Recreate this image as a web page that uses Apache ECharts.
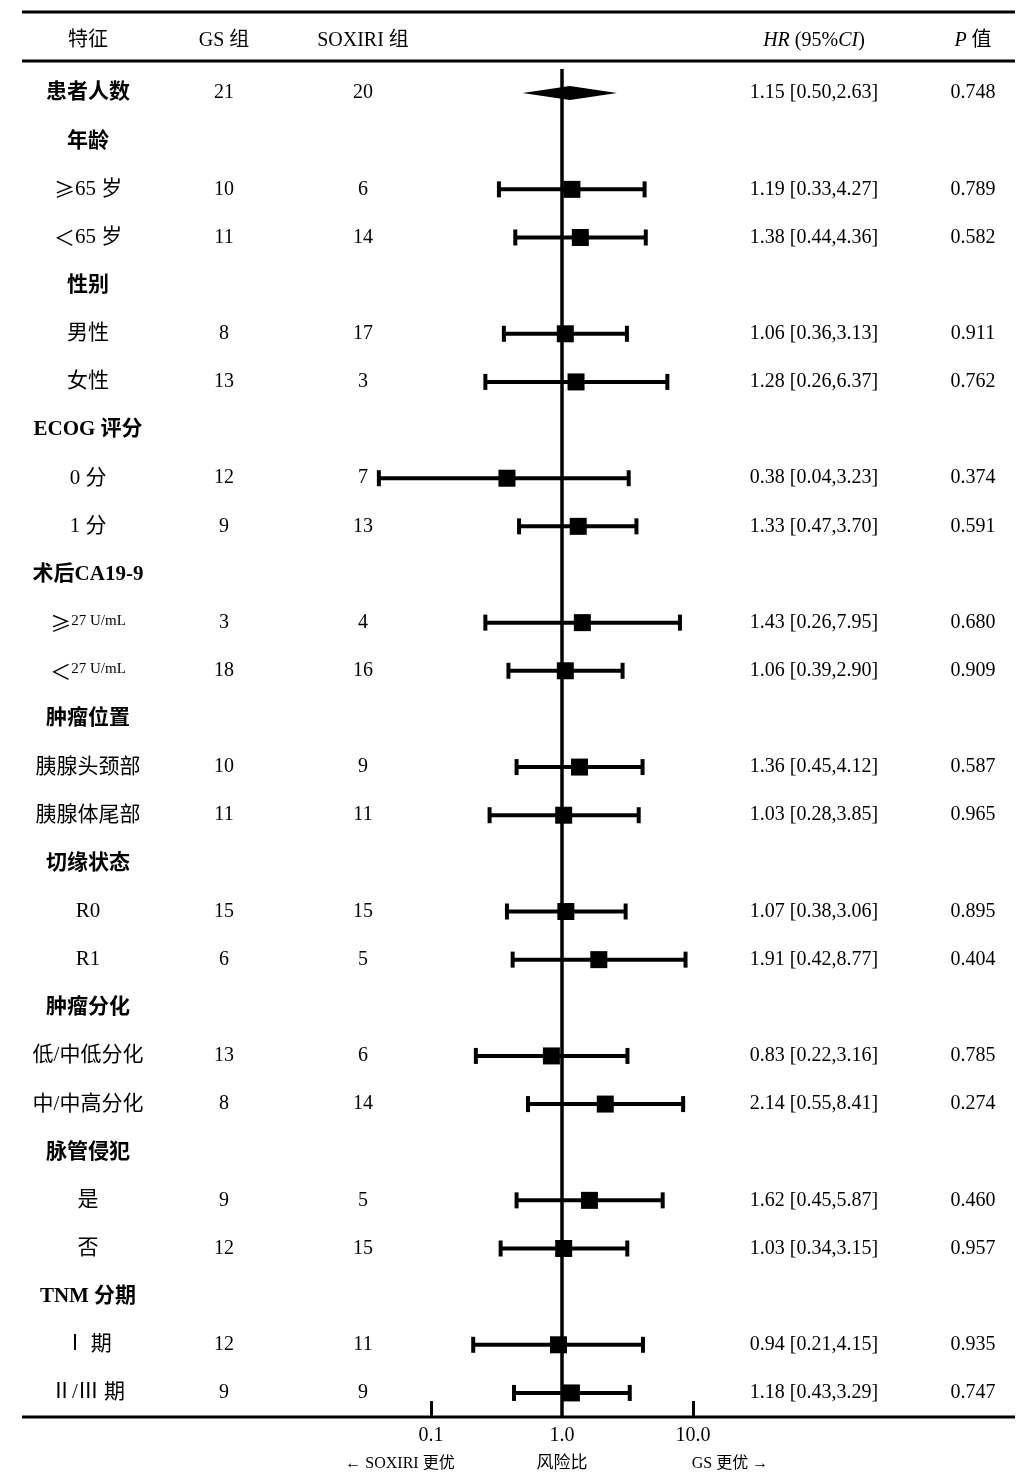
<!DOCTYPE html>
<html>
<head>
<meta charset="utf-8">
<style>
  html, body { margin: 0; padding: 0; background: #fff; }
  #chart { width: 1035px; height: 1483px; }
</style>
<script src="https://cdn.jsdelivr.net/npm/echarts@6/dist/echarts.min.js"></script>
</head>
<body>
<div id="chart"></div>
<script>
// rows of the table, top to bottom
const features = ['患者人数', '年龄', '≥65 岁', '＜65 岁', '性别', '男性', '女性', 'ECOG 评分', '0 分', '1 分',
  '术后CA19-9', '≥27 U/mL', '＜27 U/mL', '肿瘤位置', '胰腺头颈部', '胰腺体尾部', '切缘状态', 'R0', 'R1',
  '肿瘤分化', '低/中低分化', '中/中高分化', '脉管侵犯', '是', '否', 'TNM 分期', 'Ⅰ 期', 'Ⅱ/Ⅲ 期'];
const groupRows = ['患者人数', '年龄', '性别', 'ECOG 评分', '术后CA19-9', '肿瘤位置', '切缘状态', '肿瘤分化', '脉管侵犯', 'TNM 分期'];

const gsN = ['21', '', '10', '11', '', '8', '13', '', '12', '9', '', '3', '18', '', '10', '11', '', '15', '6', '', '13', '8', '', '9', '12', '', '12', '9'];
const soxN = ['20', '', '6', '14', '', '17', '3', '', '7', '13', '', '4', '16', '', '9', '11', '', '15', '5', '', '6', '14', '', '5', '15', '', '11', '9'];

const hr = [1.15, null, 1.19, 1.38, null, 1.06, 1.28, null, 0.38, 1.33, null, 1.43, 1.06, null, 1.36, 1.03, null, 1.07, 1.91, null, 0.83, 2.14, null, 1.62, 1.03, null, 0.94, 1.18];
const lo = [0.50, null, 0.33, 0.44, null, 0.36, 0.26, null, 0.04, 0.47, null, 0.26, 0.39, null, 0.45, 0.28, null, 0.38, 0.42, null, 0.22, 0.55, null, 0.45, 0.34, null, 0.21, 0.43];
const hi = [2.63, null, 4.27, 4.36, null, 3.13, 6.37, null, 3.23, 3.70, null, 7.95, 2.90, null, 4.12, 3.85, null, 3.06, 8.77, null, 3.16, 8.41, null, 5.87, 3.15, null, 4.15, 3.29];
const pVal = ['0.748', '', '0.789', '0.582', '', '0.911', '0.762', '', '0.374', '0.591', '', '0.680', '0.909', '', '0.587', '0.965', '', '0.895', '0.404', '', '0.785', '0.274', '', '0.460', '0.957', '', '0.935', '0.747'];

const xTicks = [0.1, 1, 10];

const FONT = '"Liberation Serif", "Noto Sans CJK SC", serif';
const CJK = '"Noto Sans CJK SC", sans-serif';
const overallRow = 0;

const hrText = hr.map((v, i) => v == null ? '' : v.toFixed(2) + ' [' + lo[i].toFixed(2) + ',' + hi[i].toFixed(2) + ']');

// subgroup rows get a square and a whisker, the overall row a diamond
const barData = [];
const pointData = [];
hr.forEach((v, i) => {
  if (v == null || i === overallRow) return;
  barData.push([lo[i], hi[i], i]);
  pointData.push([v, i]);
});
const diamondData = [[lo[overallRow], hr[overallRow], hi[overallRow], overallRow]];

const GRID_LEFT = 300, GRID_RIGHT = 211, GRID_TOP = 69, GRID_BOTTOM = 66;
const AXIS_X = GRID_LEFT, AXIS_X_R = 1035 - GRID_RIGHT;

// one category axis per text column, labels centred on the column
function textAxis(position, centerX, formatter, rich) {
  const offset = position === 'left' ? AXIS_X - centerX : centerX - AXIS_X_R;
  return {
    type: 'category',
    data: features,
    inverse: true,
    position: position,
    offset: offset,
    axisLine: { show: false },
    axisTick: { show: false },
    splitLine: { show: false },
    axisLabel: {
      interval: 0,
      margin: 0,
      align: 'center',
      color: '#000',
      fontFamily: FONT,
      fontSize: 20,
      formatter: formatter,
      rich: rich
    }
  };
}

const featureRich = {
  b: { fontFamily: FONT, fontSize: 21, fontWeight: 'bold', color: '#000' },
  n: { fontFamily: FONT, fontSize: 21, color: '#000' },
  g: { fontFamily: CJK, fontSize: 21, color: '#000' },
  s: { fontFamily: FONT, fontSize: 15, color: '#000', padding: [0, 0, 4, 0] }
};

function featureLabel(v) {
  if (groupRows.indexOf(v) > -1) return '{b|' + v + '}';
  const c = v.charAt(0);
  if (c === '≥' || c === '＜') {
    const rest = v.slice(1);
    return '{g|' + c + '}' + (rest.indexOf('U/mL') > -1 ? '{s|' + rest + '}' : '{n|' + rest + '}');
  }
  return '{n|' + v + '}';
}

const chart = echarts.init(document.getElementById('chart'), null, { renderer: 'canvas' });

const option = {
  backgroundColor: '#fff',
  animation: false,
  grid: { left: GRID_LEFT, right: GRID_RIGHT, top: GRID_TOP, bottom: GRID_BOTTOM },
  xAxis: {
    type: 'log',
    logBase: 10,
    min: 0.01,
    max: 100,
    axisLine: { show: false },
    splitLine: { show: false },
    axisTick: {
      show: true,
      inside: true,
      length: 16,
      customValues: [0.1, 10],
      lineStyle: { color: '#000', width: 3 }
    },
    axisLabel: {
      customValues: xTicks,
      margin: 9,
      color: '#000',
      fontFamily: FONT,
      fontSize: 20,
      formatter: v => Number(v).toFixed(1)
    }
  },
  yAxis: [
    textAxis('left', 88, featureLabel, featureRich),
    textAxis('left', 224, (v, i) => gsN[i]),
    textAxis('left', 363, (v, i) => soxN[i]),
    textAxis('right', 814, (v, i) => hrText[i]),
    textAxis('right', 973, (v, i) => pVal[i])
  ],
  graphic: [
    { type: 'line', shape: { x1: 22, y1: 12, x2: 1015, y2: 12 }, style: { stroke: '#000', lineWidth: 3 } },
    { type: 'line', shape: { x1: 22, y1: 61, x2: 1015, y2: 61 }, style: { stroke: '#000', lineWidth: 3 } },
    { type: 'line', shape: { x1: 22, y1: 1417, x2: 1015, y2: 1417 }, style: { stroke: '#000', lineWidth: 3 } },
    { type: 'text', x: 88, y: 41, style: { text: '特征', font: '20px ' + FONT, fill: '#000', align: 'center', verticalAlign: 'middle' } },
    { type: 'text', x: 224, y: 41, style: { text: 'GS 组', font: '20px ' + FONT, fill: '#000', align: 'center', verticalAlign: 'middle' } },
    { type: 'text', x: 363, y: 41, style: { text: 'SOXIRI 组', font: '20px ' + FONT, fill: '#000', align: 'center', verticalAlign: 'middle' } },
    {
      type: 'text', x: 814, y: 41,
      style: {
        text: '{i|HR} (95%{i|CI})', font: '20px ' + FONT, fill: '#000', align: 'center', verticalAlign: 'middle',
        rich: { i: { fontStyle: 'italic', fontFamily: FONT, fontSize: 20, fill: '#000' } }
      }
    },
    {
      type: 'text', x: 973, y: 41,
      style: {
        text: '{i|P} 值', font: '20px ' + FONT, fill: '#000', align: 'center', verticalAlign: 'middle',
        rich: { i: { fontStyle: 'italic', fontFamily: FONT, fontSize: 20, fill: '#000' } }
      }
    },
    { type: 'text', x: 400, y: 1464, style: { text: '← SOXIRI 更优', font: '16px ' + FONT, fill: '#000', align: 'center', verticalAlign: 'middle' } },
    { type: 'text', x: 562, y: 1464, style: { text: '风险比', font: '17px ' + FONT, fill: '#000', align: 'center', verticalAlign: 'middle' } },
    { type: 'text', x: 730, y: 1464, style: { text: 'GS 更优 →', font: '16px ' + FONT, fill: '#000', align: 'center', verticalAlign: 'middle' } }
  ],
  series: [
    {
      name: 'CI',
      type: 'custom',
      xAxisIndex: 0,
      yAxisIndex: 0,
      data: barData,
      encode: { x: [0, 1], y: 2 },
      renderItem: function (params, api) {
        const a = api.coord([api.value(0), api.value(2)]);
        const b = api.coord([api.value(1), api.value(2)]);
        const cap = 8;
        const st = { stroke: '#000', lineWidth: 4 };
        return {
          type: 'group',
          children: [
            { type: 'line', shape: { x1: a[0], y1: a[1], x2: b[0], y2: b[1] }, style: st },
            { type: 'line', shape: { x1: a[0], y1: a[1] - cap, x2: a[0], y2: a[1] + cap }, style: st },
            { type: 'line', shape: { x1: b[0], y1: b[1] - cap, x2: b[0], y2: b[1] + cap }, style: st }
          ]
        };
      },
      z: 3
    },
    {
      name: 'overall',
      type: 'custom',
      xAxisIndex: 0,
      yAxisIndex: 0,
      data: diamondData,
      encode: { x: [0, 1, 2], y: 3 },
      renderItem: function (params, api) {
        const row = api.value(3);
        const l = api.coord([api.value(0), row]);
        const m = api.coord([api.value(1), row]);
        const r = api.coord([api.value(2), row]);
        const h = 7;
        return {
          type: 'polygon',
          shape: { points: [[l[0], l[1]], [m[0], m[1] - h], [r[0], r[1]], [m[0], m[1] + h]] },
          style: { fill: '#000' }
        };
      },
      z: 4
    },
    {
      name: 'HR',
      type: 'scatter',
      xAxisIndex: 0,
      yAxisIndex: 0,
      data: pointData,
      symbol: 'rect',
      symbolSize: 17,
      itemStyle: { color: '#000', opacity: 1 },
      z: 5,
      markLine: {
        silent: true,
        symbol: 'none',
        label: { show: false },
        lineStyle: { color: '#000', width: 3.5, type: 'solid', opacity: 1 },
        data: [{ xAxis: 1 }]
      }
    }
  ]
};

chart.setOption(option);
</script>
</body>
</html>
